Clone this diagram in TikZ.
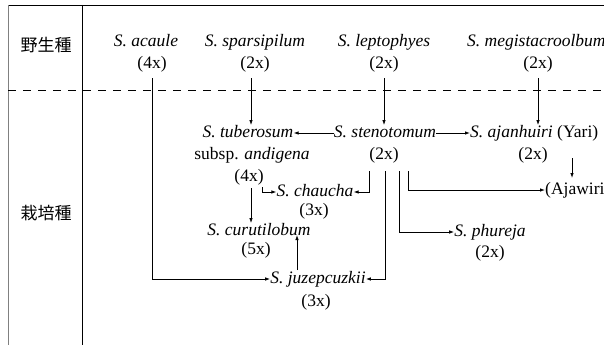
\documentclass[tikz,border=0pt]{standalone}
\usepackage{fontspec}
\setmainfont{Liberation Serif}
\newfontfamily\cjk{Noto Sans CJK JP}
\usetikzlibrary{arrows.meta}
\tikzset{
  lbl/.style={inner sep=0pt, text height=12pt, text depth=3.5pt, font=\fontsize{17.5}{20}\selectfont},
  hdr/.style={inner sep=0pt, font=\cjk\fontsize{17}{20}\selectfont},
  arr/.style={draw, line width=0.8pt, -{Latex[length=5pt,width=3.5pt]}},
  frame/.style={draw, line width=0.9pt},
}
\begin{document}
\begin{tikzpicture}[x=1pt,y=-1pt]
\useasboundingbox (0,0) rectangle (604,345);
% frame
\draw[frame] (8,5) -- (604,5);
\draw[frame, gray] (8,5) -- (8,345);
\draw[frame] (82,5) -- (82,345);
\draw[line width=0.9pt, dash pattern=on 8pt off 7pt] (8,90) -- (604,90);
\node[hdr] (wild) at (46,45) {野生種};
\node[hdr] (cult) at (46,213) {栽培種};
% wild species
\node[lbl] (acn) at (146,42) {\textit{S. acaule}};
\node[lbl] (acx) at (152,64) {(4x)};
\node[lbl] (spn) at (255,42) {\textit{S. sparsipilum}};
\node[lbl] (spx) at (255,64) {(2x)};
\node[lbl] (len) at (384,42) {\textit{S. leptophyes}};
\node[lbl] (lex) at (384,64) {(2x)};
\node[lbl, anchor=west] (men) at (467,42) {\textit{S. megistacroolbum}};
\node[lbl] (mex) at (538,64) {(2x)};
% cultivated
\node[lbl] (tub) at (248,133) {\textit{S. tuberosum}};
\node[lbl] (sub) at (252,155) {subsp. \textit{andigena}};
\node[lbl] (tux) at (249,177) {(4x)};
\node[lbl] (stn) at (385,133) {\textit{S. stenotomum}};
\node[lbl] (stx) at (384,155) {(2x)};
\node[lbl, anchor=west] (ajn) at (470,133) {\textit{S. ajanhuiri} (Yari)};
\node[lbl] (ajx) at (533,155) {(2x)};
\node[lbl, anchor=west] (ajw) at (545,190) {(Ajawiri};
\node[lbl] (cha) at (315,192) {\textit{S. chaucha}};
\node[lbl] (chx) at (314,211) {(3x)};
\node[lbl] (cur) at (259,231) {\textit{S. curutilobum}};
\node[lbl] (cux) at (256,250) {(5x)};
\node[lbl] (juz) at (318,279) {\textit{S. juzepcuzkii}};
\node[lbl] (jux) at (316,302) {(3x)};
\node[lbl] (phu) at (490,232) {\textit{S. phureja}};
\node[lbl] (phx) at (490,253) {(2x)};
% helper coordinates
\coordinate (a1) at (152,78);
\coordinate (sp1) at (251,78);
\coordinate (le1) at (384,78);
\coordinate (me1) at (538,78);
\coordinate (s1) at (369,171);
\coordinate (s2) at (385,171);
\coordinate (s3) at (399,171);
\coordinate (s4) at (408,171);
\coordinate (t1) at (251,188);
\coordinate (t2) at (262,187);
\coordinate (j1) at (297,270);
\coordinate (c1) at (297,235);
\coordinate (aj1) at (572,158);
\coordinate (aj2) at (572,178);
% connectors
\draw[arr] (a1) |- (juz.west);
\draw[arr] (sp1) -- (sp1 |- tub.north);
\draw[arr] (le1) -- (le1 |- stn.north);
\draw[arr] (me1) -- (me1 |- ajn.north);
\draw[arr] (stn.west) -- (tub.east);
\draw[arr] (stn.east) -- (ajn.west);
\draw[arr] (aj1) -- (aj2);
\draw[arr] (s1) |- (cha.east);
\draw[arr] (s2) |- (juz.east);
\draw[arr] (s3) |- (phu.west);
\draw[arr] (s4) |- (ajw.west);
\draw[arr] (t1) -- (t1 |- cur.north);
\draw[arr] (t2) |- (cha.west);
\draw[arr] (j1) -- (c1);
\end{tikzpicture}
\end{document}
